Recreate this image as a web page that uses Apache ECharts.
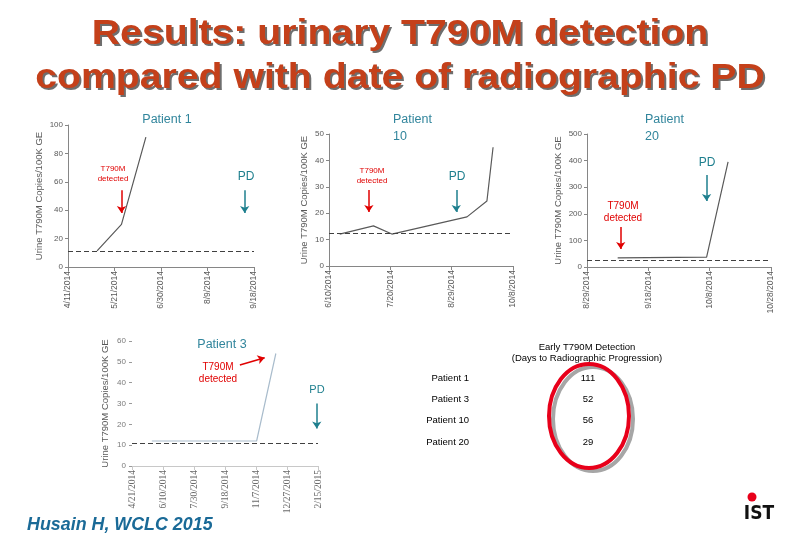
<!DOCTYPE html>
<html><head><meta charset="utf-8">
<script src="https://cdn.jsdelivr.net/npm/echarts@6/dist/echarts.min.js"></script>
<style>html,body{margin:0;padding:0;background:#fff}#c{width:800px;height:533px}</style>
</head><body><div id="c"></div>
<script>
// ---------- DATA ----------
const titleLines = ['Results: urinary T790M detection', 'compared with date of radiographic PD'];

const p1Dates = ['2014-05-06','2014-05-27','2014-06-17'];
const p1Values = [11.3, 30, 91.5];
const p1Ticks = ['4/11/2014','5/21/2014','6/30/2014','8/9/2014','9/18/2014'];
const p1Threshold = 11;

const p10Dates = ['2014-06-17','2014-07-09','2014-07-21','2014-09-08','2014-09-21','2014-09-25'];
const p10Values = [12.1, 15.2, 12.1, 18.6, 24.6, 45];
const p10Ticks = ['6/10/2014','7/20/2014','8/29/2014','10/8/2014'];
const p10Threshold = 12.5;

const p20Dates = ['2014-09-08','2014-10-07','2014-10-14'];
const p20Values = [34, 37, 395];
const p20Ticks = ['8/29/2014','9/18/2014','10/8/2014','10/28/2014'];
const p20Threshold = 26;

const p3Dates = ['2014-05-23','2014-11-08','2014-12-09'];
const p3Values = [12, 12, 54];
const p3Ticks = ['4/21/2014','6/10/2014','7/30/2014','9/18/2014','11/7/2014','12/27/2014','2/15/2015'];
const p3Threshold = 11;

// annotation arrows: [date, fromValue, date, toValue]
const p1T790M = ['2014-05-27', 54, '2014-05-27', 38];
const p1PD = ['2014-09-10', 54, '2014-09-10', 38];
const p10T790M = ['2014-07-06', 28.8, '2014-07-06', 20.5];
const p10PD = ['2014-09-01', 28.8, '2014-09-01', 20.5];
const p20T790M = ['2014-09-09', 150, '2014-09-09', 68];
const p20PD = ['2014-10-07', 346, '2014-10-07', 248];
const p3T790M = ['2014-10-12', 48.5, '2014-11-21', 52];
const p3PD = ['2015-02-13', 30, '2015-02-13', 18];

const tablePatients = ['Patient 1','Patient 3','Patient 10','Patient 20'];
const tableDays = [111, 52, 56, 29];

// ---------- BUILD ----------
const DAY = 86400000;
function toUS(t){ const p=t.split('/'); return p[2]+'-'+p[0].padStart(2,'0')+'-'+p[1].padStart(2,'0'); }
function off(d, ticks){ return (Date.parse(d) - Date.parse(toUS(ticks[0])))/DAY; }

const AX = '#868686', LBL = '#595959';
const RED = '#e00000', TEAL = '#1e7f8e';
const SANS = 'Liberation Sans, Arial, sans-serif';

function mkAxes(i, ticks, interval, ymax, yint, light){
  const x = {
    type:'value', gridIndex:i, min:0, max:interval*(ticks.length-1), interval:interval,
    splitLine:{show:false},
    axisLine:{lineStyle:{color: light?'#c8c8c8':AX}},
    axisTick:{show:true, length:4, lineStyle:{color: light?'#c8c8c8':AX}},
    axisLabel:{rotate:90, fontSize: light?9.5:8.5, color: light?'#6a6a6a':LBL, margin:4,
      fontFamily: light?'Liberation Serif, serif':SANS,
      formatter: v => ticks[Math.round(v/interval)] || ''}
  };
  const y = {
    type:'value', gridIndex:i, min:0, max:ymax, interval:yint,
    name:'Urine T790M Copies/100K GE', nameLocation:'middle', nameGap: light?22:(ymax>=100?24:20),
    nameTextStyle:{fontSize:9.5, color:LBL, fontFamily:SANS},
    splitLine:{show:false},
    axisLine:{show:!light, lineStyle:{color:AX}},
    axisTick:{show:true, length:3, lineStyle:{color: light?'#9a9a9a':AX}},
    axisLabel:{fontSize:8, color: light?'#7a7a7a':LBL, margin: light?6:5, fontFamily:SANS}
  };
  return [x,y];
}

function arrow(a, ticks){
  return [{coord:[off(a[0],ticks), a[1]]},{coord:[off(a[2],ticks), a[3]]}];
}

function mkSeries(i, dates, vals, ticks, thr, arrows, lineColor){
  const data = dates.map((d,k)=>[off(d,ticks), vals[k]]);
  return [{
    type:'line', xAxisIndex:i, yAxisIndex:i, data:data, symbol:'none',
    lineStyle:{color:lineColor, width:1.2}, silent:true,
    markLine:{silent:true, symbol:'none', label:{show:false},
      lineStyle:{color:'#404040', type:[5,3], width:1},
      data:[{yAxis:thr}]}
  },{
    type:'line', xAxisIndex:i, yAxisIndex:i, data:[], silent:true,
    markLine:{silent:true, symbol:['none','arrow'], symbolSize:7, label:{show:false},
      data: arrows.map(a=>{ const l=arrow(a[0],ticks); l[0].lineStyle={color:a[1],width:1.5,type:'solid'}; return l; })}
  }];
}

const [x0,y0] = mkAxes(0, p1Ticks, 40, 100, 20, false);
const [x1,y1] = mkAxes(1, p10Ticks, 40, 50, 10, false);
const [x2,y2] = mkAxes(2, p20Ticks, 20, 500, 100, false);
const [x3,y3] = mkAxes(3, p3Ticks, 50, 60, 10, true);

const series = [].concat(
  mkSeries(0, p1Dates, p1Values, p1Ticks, p1Threshold, [[p1T790M,RED],[p1PD,TEAL]], '#595959'),
  mkSeries(1, p10Dates, p10Values, p10Ticks, p10Threshold, [[p10T790M,RED],[p10PD,TEAL]], '#595959'),
  mkSeries(2, p20Dates, p20Values, p20Ticks, p20Threshold, [[p20T790M,RED],[p20PD,TEAL]], '#595959'),
  mkSeries(3, p3Dates, p3Values, p3Ticks, p3Threshold, [[p3T790M,RED],[p3PD,TEAL]], '#a9bccc')
);

function txt(x,y,t,size,color,align,lh){
  return {type:'text', x:x, y:y, silent:true,
    style:{text:t, fontSize:size, fill:color, fontFamily:SANS, align:align||'center', verticalAlign:'middle', lineHeight:lh||size*1.2}};
}

const graphics = [];
// title with drop shadow
titleLines.forEach((t,k)=>{
  const yy = [17.3,61.3][k];
  graphics.push({type:'text', x:400, y:yy, scaleX:1.12, silent:true, style:{text:t, fontSize:35, fontWeight:'bold', fill:'#c4401a', fontFamily:SANS, align:'center', verticalAlign:'top',
    textShadowColor:'#6e6e6e', textShadowOffsetX:2, textShadowOffsetY:2, textShadowBlur:0.5}});
});
graphics.push(
  // series titles
  txt(167,120,'Patient 1',12.5,'#31859c'),
  txt(393,128.5,'Patient\n10',12.5,'#31859c','left',17),
  txt(645,128.5,'Patient\n20',12.5,'#31859c','left',17),
  txt(222,345,'Patient 3',12.5,'#31859c'),
  // annotation labels
  txt(113,174,'T790M\ndetected',8,RED),
  txt(246,177,'PD',12,TEAL),
  txt(372,176,'T790M\ndetected',8,RED),
  txt(457,177,'PD',12,TEAL),
  txt(623,212,'T790M\ndetected',10,RED),
  txt(707,163,'PD',12,TEAL),
  txt(218,373,'T790M\ndetected',10,RED),
  txt(317,390,'PD',11,TEAL),
  // table
  txt(587,347,'Early T790M Detection',9.5,'#000'),
  txt(587,358,'(Days to Radiographic Progression)',9.5,'#000'),
  // ellipse
  {type:'ellipse', silent:true, shape:{cx:593,cy:419,rx:40,ry:52}, style:{fill:'none', stroke:'#a6a6a6', lineWidth:4}},
  {type:'ellipse', silent:true, shape:{cx:589,cy:416,rx:40,ry:52}, style:{fill:'none', stroke:'#e8001a', lineWidth:4}},
  // footer
  {type:'text', x:27, y:524.5, scaleX:0.94, silent:true, style:{text:'Husain H, WCLC 2015', fontSize:19, fontWeight:'bold', fontStyle:'italic', fill:'#1a6a97', fontFamily:SANS, verticalAlign:'middle'}},
  // logo
  {type:'circle', silent:true, shape:{cx:752,cy:497,r:4.5}, style:{fill:'#e8001a'}},
  {type:'text', x:759, y:514, silent:true, style:{text:'IST', fontSize:19, fontWeight:'bold', fill:'#111', fontFamily:'DejaVu Sans Condensed, DejaVu Sans, sans-serif', align:'center', verticalAlign:'middle'}}
);
tablePatients.forEach((p,k)=>{
  graphics.push(txt(469,378+k*21.3,p,9.5,'#000','right'));
  graphics.push(txt(588,378+k*21.3,String(tableDays[k]),9.5,'#000','center'));
});

const option = {
  animation:false,
  backgroundColor:'#fff',
  grid:[
    {left:68, top:125, width:186, height:142},
    {left:329, top:134, width:184, height:132},
    {left:587, top:134, width:184, height:133},
    {left:132, top:341, width:186, height:125}
  ],
  xAxis:[x0,x1,x2,x3],
  yAxis:[y0,y1,y2,y3],
  series: series,
  graphic: graphics
};
echarts.init(document.getElementById('c'), null, {renderer:'canvas'}).setOption(option);
</script></body></html>
